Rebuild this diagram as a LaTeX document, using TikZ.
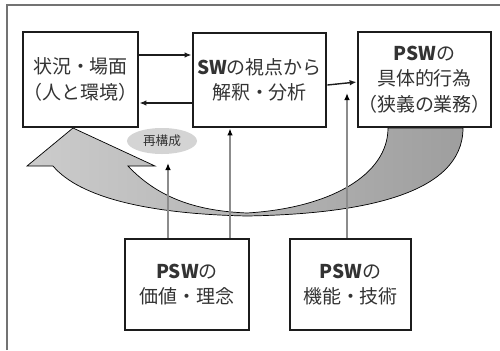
\documentclass[tikz,border=0pt]{standalone}
\usepackage{fontspec}
\setmainfont{Noto Sans CJK JP}
\usetikzlibrary{shapes.geometric,arrows.meta}
\definecolor{txt}{HTML}{333333}
\definecolor{edge}{HTML}{1C1C1C}
\begin{document}
\begin{tikzpicture}[x=0.025cm,y=-0.025cm,
  box/.style={draw=edge,line width=2pt,fill=white,align=center,text=txt,inner sep=0pt,
    font=\fontsize{13.5}{18}\selectfont},
  flow/.style={edge,line width=1pt,-{Latex[length=5pt,width=4pt]}},
  feed/.style={black!45,line width=1.1pt,-{Latex[color=black,length=5pt,width=4pt]}}]
\useasboundingbox (0,0) rectangle (500,350);

%FRAME
  \draw[black!55,line width=1pt] (7,350) -- (7,5) -- (500,5);

%BIG ARROW
  \shade[left color=black!20,right color=black!38,draw=black,line width=.5pt]
    (73,128) -- (155,166) -- (128,166) .. controls (160,200) and (200,211) .. (247,213)
    .. controls (330,208) and (388,175) .. (388,128) -- (463,128)
    .. controls (463,195) and (360,214) .. (247,216)
    .. controls (150,214) and (80,198) .. (53,166) -- (27,166) -- cycle;

%BOXES
  \node (sit) at (80.5,79.5) [box,minimum width=2.875cm,minimum height=2.375cm] {状況・場面\\（人と環境）};
  \node (sw) at (259.5,80) [box,minimum width=3.325cm,minimum height=2.35cm] {{\bfseries SW}の視点から\\解釈・分析};
  \node (act) at (424.5,79.5) [box,minimum width=2.975cm,minimum height=2.375cm] {{\bfseries PSW}の\\具体的行為\\（狭義の業務）};
  \node (val) at (187,284.5) [box,minimum width=3.1cm,minimum height=2.275cm] {{\bfseries PSW}の\\価値・理念};
  \node (fun) at (350.5,284.5) [box,minimum width=3.025cm,minimum height=2.275cm] {{\bfseries PSW}の\\機能・技術};
  \node (re) at (162,141) [ellipse,fill=black!17,minimum width=1.75cm,minimum height=.65cm,inner sep=0pt,
    text=txt,font=\fontsize{9}{10}\selectfont] {再構成};

%ARROWS
  \draw[flow] (sit.east |- 0,55) -- (sw.west |- 0,55);
  \draw[flow] (sw.west |- 0,103) -- (sit.east |- 0,103);
  \draw[flow] (sw.east |- 0,85) -- (act.west |- 0,82);
  \coordinate (r1) at (168,163);
  \coordinate (r3) at (347,93);
  \draw[feed] (val.north -| 168,0) -- (r1);
  \draw[feed] (val.north -| 230,0) -- (sw.south -| 230,0);
  \draw[feed] (fun.north -| 347,0) -- (r3);
\end{tikzpicture}
\end{document}
